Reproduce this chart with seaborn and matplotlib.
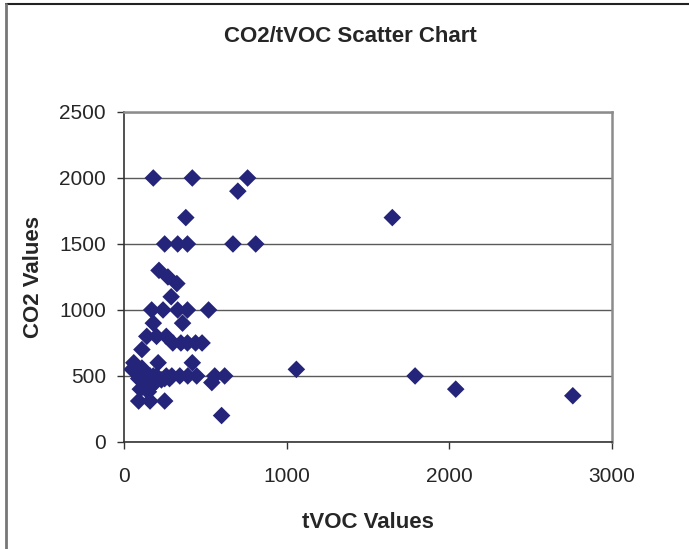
import numpy as np
import pandas as pd
import seaborn as sns
import matplotlib.pyplot as plt
from matplotlib.lines import Line2D

# values
tvoc = [180, 420, 760, 700, 380, 1650,
        250, 330, 390, 670, 810,
        215, 270, 325, 290,
        170, 240, 330, 390, 520,
        180, 360,
        140, 200, 260,
        300, 350, 390, 440, 480,
        110,
        60, 210, 420,
        1060,
        100, 120, 140, 160, 180, 200, 294, 343, 392, 447, 558, 619, 1790,
        90, 130, 150, 250,
        140, 170, 540,
        150, 2040, 2760,
        90, 160, 250,
        600,
        50, 80, 110, 120, 130, 150, 100, 200, 230, 260, 280]
co2 = [2000, 2000, 2000, 1900, 1700, 1700,
       1500, 1500, 1500, 1500, 1500,
       1300, 1250, 1200, 1100,
       1000, 1000, 1000, 1000, 1000,
       900, 900,
       800, 800, 800,
       750, 750, 750, 750, 750,
       700,
       600, 600, 600,
       550,
       500, 500, 500, 500, 500, 500, 500, 500, 500, 500, 500, 500, 500,
       480, 480, 480, 480,
       450, 450, 450,
       400, 400, 350,
       310, 310, 310,
       200,
       550, 520, 560, 450, 420, 380, 400, 460, 470, 500, 480]

df = pd.DataFrame({'tVOC': tvoc, 'CO2': co2})

sns.set_style('white')
plt.rcParams['font.family'] = ['Liberation Sans', 'DejaVu Sans']

fig = plt.figure(figsize=(6.89, 5.49), dpi=100)
ax = fig.add_axes([0.18, 0.195, 0.708, 0.601])

sns.scatterplot(data=df, x='tVOC', y='CO2', marker='D', s=80, color='#24247a',
                edgecolor='none', linewidth=0, ax=ax, zorder=3)

ax.set_xlim(0, 3000)
ax.set_ylim(0, 2500)
ax.set_xticks([0, 1000, 2000, 3000])
ax.set_yticks([0, 500, 1000, 1500, 2000, 2500])
ax.yaxis.grid(True, color='#5a5a5a', linewidth=1.0)
ax.xaxis.grid(False)
ax.set_axisbelow(True)

for side in ['left', 'bottom']:
    ax.spines[side].set_color('#333333')
    ax.spines[side].set_linewidth(1.2)
for side in ['top', 'right']:
    ax.spines[side].set_color('#8c8c8c')
    ax.spines[side].set_linewidth(1.8)

ax.tick_params(axis='both', direction='out', length=5, width=1, color='#333333',
               labelsize=15, left=True, bottom=True)
ax.tick_params(axis='x', pad=13)
ax.tick_params(axis='y', pad=8)

ax.set_xlabel('tVOC Values', fontsize=16, fontweight='bold', labelpad=19)
ax.set_ylabel('CO2 Values', fontsize=16, fontweight='bold', labelpad=11)
fig.text(0.508, 0.934, 'CO2/tVOC Scatter Chart', ha='center', va='center',
         fontsize=16, fontweight='bold')

# chart area border (top and left visible)
fig.add_artist(Line2D([6 / 689, 1], [1 - 4 / 549, 1 - 4 / 549], color='#222222', linewidth=1.5))
fig.add_artist(Line2D([6 / 689, 6 / 689], [0, 1 - 4 / 549], color='#777777', linewidth=2))

fig.savefig('out.png', dpi=100)
